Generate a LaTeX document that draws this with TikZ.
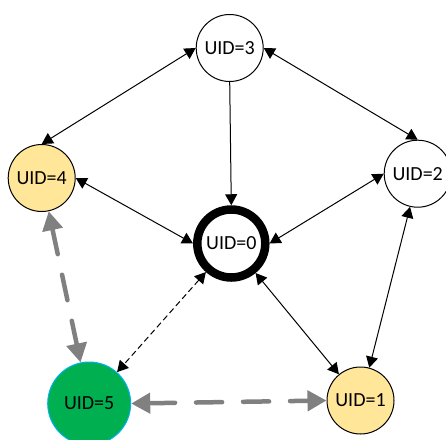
\documentclass[tikz,border=0pt]{standalone}
\usepackage{fontspec}
\setmainfont{Carlito}
\usetikzlibrary{arrows.meta}

\definecolor{nodeyellow}{RGB}{255,230,153}
\definecolor{nodegreen}{RGB}{0,176,80}
\definecolor{greenrim}{RGB}{0,176,240}
\definecolor{linkgray}{RGB}{128,128,128}

\tikzset{
  uid/.style={circle, draw=black, line width=1pt, fill=white,
    minimum size=67pt, inner sep=0pt,
    font=\fontsize{20}{24}\selectfont},
  leader/.style={uid, line width=8.5pt, minimum size=68pt},
  pending/.style={uid, fill=nodeyellow},
  joined/.style={uid, fill=nodegreen, draw=greenrim, minimum size=83pt},
  link/.style={draw=black, line width=1pt,
    {Triangle[length=11pt,width=12pt]}-{Triangle[length=11pt,width=12pt]}},
  oneway/.style={draw=black, line width=1pt, -{Triangle[length=11pt,width=12pt]}},
  probe/.style={link, dash pattern=on 6pt off 3.5pt},
  graylink/.style={draw=linkgray, line width=4.5pt, line cap=round,
    dash pattern=on 26pt off 21pt,
    {Triangle[length=19pt,width=20pt]}-{Triangle[length=19pt,width=20pt]}}
}

\begin{document}
\begin{tikzpicture}[x=1pt, y=-1pt]
  \useasboundingbox (0,0) rectangle (446,439);
  \clip (0,0) rectangle (446,439);

  % ring members
  \node[uid]     (n3) at (229.7,48)    {UID=3};
  \node[pending] (n4) at (41.7,178)    {UID=4};
  \node[uid]     (n2) at (417.7,173.7) {UID=2};
  \node[leader]  (n0) at (231.3,243.5) {UID=0};
  \node[joined]  (n5) at (89.2,403.5)  {UID=5};
  \node[pending] (n1) at (360.5,400.5) {UID=1};

  % solid links
  \draw[link]   (n3.west)  -- (n4.north);
  \draw[link]   (n3.east)  -- (n2.north);
  \draw[oneway] (n3.south) -- (n0.north);
  \draw[link]   (n4.east)  -- (n0.west);
  \draw[link]   (n2.west)  -- (n0.east);
  \draw[link]   (n2.-103)  -- (n1.75);
  \draw[link]   (n0)       -- (n1);

  % dashed links
  \draw[probe]    (n0) -- (n5);
  \draw[graylink] (n4) -- (n5);
  \draw[graylink] (n5.east) -- (n1.west);
\end{tikzpicture}
\end{document}
